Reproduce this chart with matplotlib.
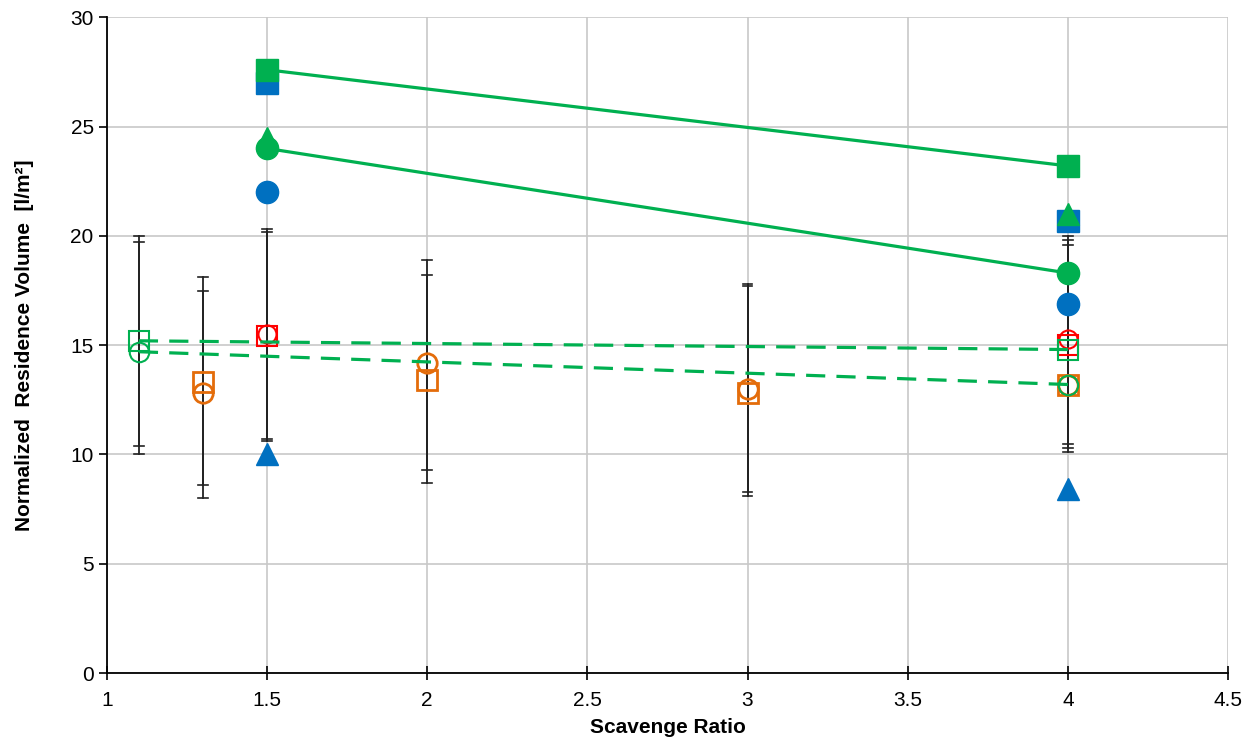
import matplotlib.pyplot as plt

plt.rcParams['font.family'] = ['Liberation Sans', 'DejaVu Sans']

green = '#00B050'
blue = '#0070C0'
orange = '#E46C0A'
red = '#FF0000'

# filled series (x = 1.5 and 4)
x_filled = [1.5, 4]
blue_sq = [27.0, 20.7]
green_sq = [27.6, 23.2]
green_tri = [24.5, 21.0]
green_circ = [24.0, 18.3]
blue_circ = [22.0, 16.9]
blue_tri = [10.0, 8.4]

# open series
x_green_open = [1.1, 4]
green_open_sq = [15.2, 14.8]
green_open_circ = [14.7, 13.2]
x_orange = [1.3, 2, 3, 4]
orange_sq = [13.3, 13.4, 12.8, 13.2]
orange_circ = [12.8, 14.2, 13.0, 13.2]
x_red = [1.5, 4]
red_sq = [15.4, 15.0]
red_circ = [15.5, 15.3]

# error bars (lower / upper ends)
err_x = [1.1, 1.1, 1.3, 1.3, 1.5, 1.5, 2, 2, 3, 3, 4, 4, 4]
err_lo = [10.0, 10.4, 8.0, 8.6, 10.6, 10.7, 8.7, 9.3, 8.1, 8.3, 10.1, 10.3, 10.5]
err_hi = [20.0, 19.7, 18.1, 17.5, 20.3, 20.2, 18.9, 18.2, 17.8, 17.7, 20.0, 19.8, 19.6]

fig = plt.figure(figsize=(12.57, 7.52), dpi=100)
ax = fig.add_axes([0.085, 0.105, 0.892, 0.872])

ax.grid(True, color='#c8c8c8', linewidth=1.2, zorder=0)
ax.set_axisbelow(True)

for x, lo, hi in zip(err_x, err_lo, err_hi):
    ax.plot([x, x], [lo, hi], color='#222222', linewidth=1.3, zorder=2)
    ax.plot([x - 0.015, x + 0.015], [lo, lo], color='#222222', linewidth=1.2, zorder=2)
    ax.plot([x - 0.015, x + 0.015], [hi, hi], color='#222222', linewidth=1.2, zorder=2)

# open markers
ax.plot(x_orange, orange_sq, 's', ms=15, mfc='none', mec=orange, mew=2, zorder=3)
ax.plot(x_orange, orange_circ, 'o', ms=14, mfc='none', mec=orange, mew=2, zorder=3)
ax.plot(x_red, red_sq, 's', ms=15, mfc='none', mec=red, mew=1.5, zorder=3)
ax.plot(x_red, red_circ, 'o', ms=13, mfc='none', mec=red, mew=1.5, zorder=3)
ax.plot(x_green_open, green_open_sq, 's', ls=(0, (6, 3.5)), lw=2.3, color=green,
        ms=15, mfc='none', mec=green, mew=1.5, zorder=4)
ax.plot(x_green_open, green_open_circ, 'o', ls=(0, (6, 3.5)), lw=2.3, color=green,
        ms=14, mfc='none', mec=green, mew=1.5, zorder=4)

# filled markers
ax.plot(x_filled, blue_tri, '^', ms=16, color=blue, zorder=5)
ax.plot(x_filled, blue_circ, 'o', ms=16, color=blue, zorder=5)
ax.plot(x_filled, blue_sq, 's', ms=16, color=blue, zorder=5)
ax.plot(x_filled, green_circ, 'o', ls='-', lw=2.3, ms=16, color=green, zorder=6)
ax.plot(x_filled, green_tri, '^', ms=16, color=green, zorder=6)
ax.plot(x_filled, green_sq, 's', ls='-', lw=2.3, ms=16, color=green, zorder=6)

ax.set_xlim(1, 4.5)
ax.set_ylim(0, 30)
ax.set_xticks([1, 1.5, 2, 2.5, 3, 3.5, 4, 4.5])
ax.set_xticklabels(['1', '1.5', '2', '2.5', '3', '3.5', '4', '4.5'])
ax.set_yticks(range(0, 31, 5))

for s in ['top', 'right']:
    ax.spines[s].set_visible(False)
ax.spines['left'].set_linewidth(1.3)
ax.spines['bottom'].set_linewidth(1.3)
ax.tick_params(axis='both', direction='out', length=6, width=1.2, labelsize=15)
ax.tick_params(axis='x', direction='inout', length=10, pad=8)

ax.set_xlabel('Scavenge Ratio', fontsize=15, fontweight='bold', labelpad=6)
ax.set_ylabel('Normalized  Residence Volume  [l/m²]', fontsize=15, fontweight='bold', labelpad=26)

plt.savefig('out.png', dpi=100)
